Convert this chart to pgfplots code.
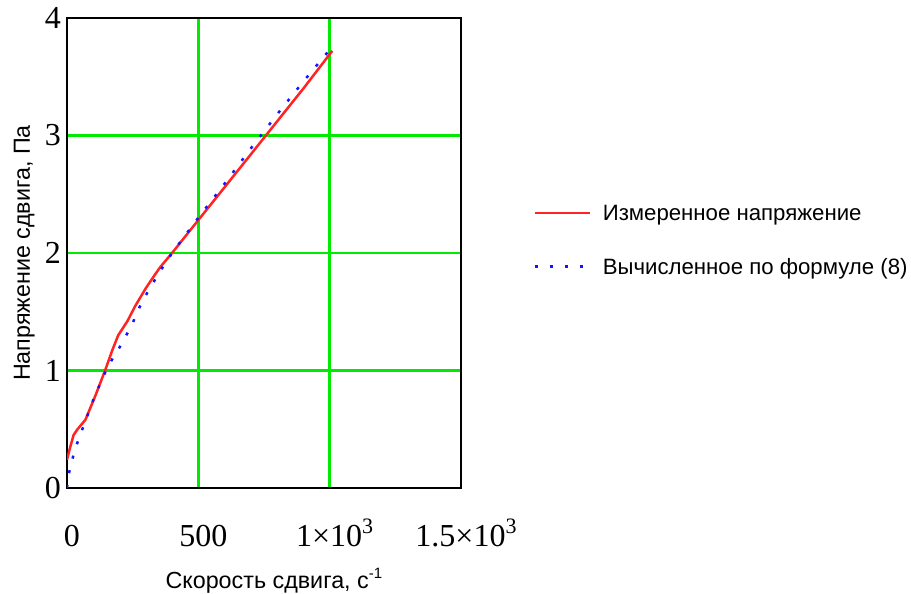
\documentclass[border=0pt]{standalone}
\usepackage{pgfplots}
\pgfplotsset{compat=1.18}
\usepackage{fontspec}
\setmainfont{Liberation Sans}
\newfontfamily\tickfont{Liberation Serif}
\newcommand{\mysup}[1]{\raisebox{0.42em}{\fontsize{22}{22}\selectfont #1}}
\definecolor{gridgreen}{RGB}{0,235,0}
\definecolor{myred}{RGB}{255,35,35}
\definecolor{myblue}{RGB}{20,20,255}
\begin{document}
\begin{tikzpicture}[x=1pt,y=1pt]
\path[use as bounding box] (0,0) rectangle (911,594);
\begin{axis}[
  at={(67pt,106pt)}, anchor=south west,
  scale only axis, width=394pt, height=470pt,
  xmin=0, xmax=1500, ymin=0, ymax=4,
  xtick={500,1000}, xticklabels={500,{1×10\mysup{3}}},
  extra x ticks={0,1500}, extra x tick labels={0,{1.5×10\mysup{3}}},
  ytick={1,2,3}, yticklabels={1,2,3},
  extra y ticks={0,4}, extra y tick labels={0,4},
  extra tick style={grid=none},
  grid=major,
  major grid style={draw=gridgreen, line width=2.5pt},
  major tick length=0pt,
  axis line style={line width=2.5pt, black},
  xticklabel style={font=\tickfont\fontsize{32}{32}\selectfont, anchor=base, yshift=-59pt, xshift=5pt, inner sep=0pt},
  yticklabel style={font=\tickfont\fontsize{32}{32}\selectfont, anchor=east, inner sep=0pt, xshift=-6pt},
  xlabel={Скорость сдвига, с\raisebox{0.4em}{\fontsize{15}{15}\selectfont -1}},
  ylabel={Напряжение сдвига, Па},
  label style={font=\fontsize{23.3}{28}\selectfont},
  xlabel style={at={(axis description cs:0.525,-0.2128)}, anchor=base, inner sep=0pt},
  ylabel style={at={(axis description cs:-0.094,0.5)}, anchor=base, inner sep=0pt},
  legend style={at={(axis description cs:1.183,0.602)}, anchor=north west, draw=none, fill=none, inner sep=0pt, row sep=38pt, column sep=12pt, font=\fontsize{22.2}{28}\selectfont, nodes={inner sep=0pt, text depth=0pt}},
  legend cell align=left,
  legend image code/.code={\draw (0pt,0pt) -- (55pt,0pt);},
]
\addplot[myred, line width=2.5pt] coordinates {
(0,0.24) (10,0.33) (25,0.45) (40,0.50) (70,0.58) (107,0.78) (145,1.00) (172,1.17) (195,1.30) (230,1.42) (260,1.55) (300,1.70) (330,1.80) (355,1.88) (400,2.00) (500,2.28) (600,2.56) (700,2.84) (800,3.12) (900,3.40) (1010,3.72)
};
\addlegendentry{Измеренное напряжение}
\addplot[myblue, line width=2.5pt, dash pattern=on 3pt off 12pt] coordinates {
(0,0.0) (5,0.1) (15,0.2) (27,0.30) (46,0.43) (69,0.56) (88,0.68) (107,0.79) (137,0.94) (156,1.04) (191,1.16) (218,1.27) (248,1.39) (267,1.50) (300,1.64) (350,1.83) (400,2.00) (500,2.30) (600,2.59) (700,2.89) (800,3.18) (900,3.46) (1015,3.77)
};
\addlegendentry{Вычисленное по формуле (8)}
\end{axis}
\end{tikzpicture}
\end{document}
